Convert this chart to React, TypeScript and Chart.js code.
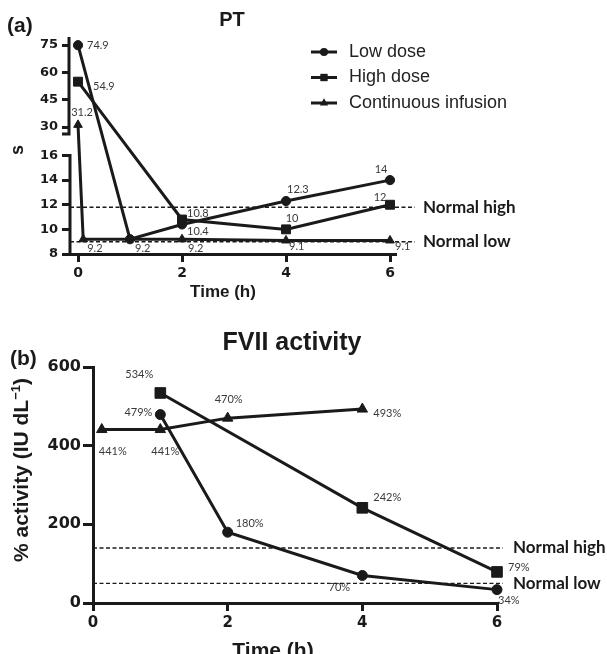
import React, { useEffect, useRef } from 'react';
import { Chart, registerables, LinearScale } from 'chart.js';

Chart.register(...registerables);

// ---------------- DATA ----------------
const SERIES = ['Low dose', 'High dose', 'Continuous infusion'];
const NORMAL_LABELS = ['Normal high', 'Normal low'];

// (a) PT, seconds
const PT_LOW_TIME = [0, 1, 2, 4, 6];
const PT_LOW = [74.9, 9.2, 10.4, 12.3, 14];
const PT_HIGH_TIME = [0, 2, 4, 6];
const PT_HIGH = [54.9, 10.8, 10, 12];
const PT_CONT_TIME = [0, 0.1, 2, 4, 6];
const PT_CONT = [31.2, 9.2, 9.2, 9.1, 9.1];
const PT_NORMAL = [11.8, 9.0];
const PT_Y_TICKS = [8, 10, 12, 14, 16, 30, 45, 60, 75];
const PT_Y_LOWER = [8, 16];
const PT_Y_UPPER = [25.6, 79.4];
const PT_X_TICKS = [0, 2, 4, 6];

// (b) FVII activity, %
const FVII_LOW_TIME = [1, 2, 4, 6];
const FVII_LOW = [479, 180, 70, 34];
const FVII_HIGH_TIME = [1, 4, 6];
const FVII_HIGH = [534, 242, 79];
const FVII_CONT_TIME = [0.13, 1, 2, 4];
const FVII_CONT = [441, 441, 470, 493];
const FVII_NORMAL = [140, 50];
const FVII_Y_TICKS = [0, 200, 400, 600];
const FVII_X_TICKS = [0, 2, 4, 6];

// ---------------- STYLE ----------------
const INK = '#1a1a1a';
const LABEL_INK = '#3a3a3a';
const ARIAL = '"Liberation Sans", Arial, sans-serif';
const WIDE = '"DejaVu Sans", sans-serif';
const LATO = 'Lato, "Open Sans", sans-serif';
const BREAK_FRACTIONS = [0.454, 0.548];

type Off = [CanvasTextAlign, number, number];
const PT_LABEL_OFFSETS: Off[][] = [
  [['left', 9, 0], ['left', 5, 9], ['left', 5, 7], ['left', 1, -12], ['center', -9, -11]],
  [['left', 15, 5], ['left', 5, -6], ['center', 6, -11], ['center', -10, -7]],
  [['center', 4, -12], ['left', 4, 9], ['left', 6, 9], ['left', 3, 6], ['left', 5, 6]],
];
const FVII_LABEL_OFFSETS: Off[][] = [
  [['right', -8, -2], ['left', 8, -9], ['center', -23, 12], ['left', 1, 11]],
  [['center', -21, -19], ['left', 11, -10], ['left', 11, -4]],
  [['center', 11, 22], ['center', 5, 22], ['center', 1, -19], ['left', 11, 4]],
];

// ---------------- broken axis scale ----------------
class BrokenLinearScale extends LinearScale {
  static id = 'brokenLinear';
  static defaults = LinearScale.defaults;
  buildTicks() {
    return PT_Y_TICKS.map((value) => ({ value }));
  }
  getPixelForValue(v: number) {
    const [a0, a1] = PT_Y_LOWER;
    const [b0, b1] = PT_Y_UPPER;
    const [f0, f1] = BREAK_FRACTIONS;
    const f = v <= (a1 + b0) / 2 ? ((v - a0) / (a1 - a0)) * f0 : f1 + ((v - b0) / (b1 - b0)) * (1 - f1);
    return this.bottom - f * (this.bottom - this.top);
  }
  getValueForPixel(p: number) {
    const [a0, a1] = PT_Y_LOWER;
    const [b0, b1] = PT_Y_UPPER;
    const [f0, f1] = BREAK_FRACTIONS;
    const f = (this.bottom - p) / (this.bottom - this.top);
    if (f <= (f0 + f1) / 2) return a0 + (f / f0) * (a1 - a0);
    return b0 + ((f - f1) / (1 - f1)) * (b1 - b0);
  }
}
Chart.register(BrokenLinearScale as any);

// ---------------- helpers ----------------
function series(label: string, times: number[], values: number[], style: string, radius: number) {
  return {
    label,
    data: times.map((t, i) => ({ x: t, y: values[i] })),
    borderColor: INK,
    backgroundColor: INK,
    borderWidth: 3,
    pointStyle: style,
    pointRadius: radius,
    pointBackgroundColor: INK,
    pointBorderColor: INK,
    pointBorderWidth: 1,
    tension: 0,
    fill: false,
    clip: false,
  };
}

function markerPath(ctx: CanvasRenderingContext2D, style: string, x: number, y: number, r: number) {
  ctx.beginPath();
  if (style === 'circle') ctx.arc(x, y, r, 0, Math.PI * 2);
  else if (style === 'rect') {
    const s = r * Math.SQRT1_2;
    ctx.rect(x - s, y - s, 2 * s, 2 * s);
  } else {
    ctx.moveTo(x, y - r);
    ctx.lineTo(x + r * 0.866, y + r * 0.5);
    ctx.lineTo(x - r * 0.866, y + r * 0.5);
    ctx.closePath();
  }
}

function txt(
  ctx: CanvasRenderingContext2D,
  s: string,
  x: number,
  y: number,
  font: string,
  align: CanvasTextAlign = 'center',
  rotate = 0,
  color = INK
) {
  ctx.save();
  ctx.translate(x, y);
  if (rotate) ctx.rotate(rotate);
  ctx.font = font;
  ctx.fillStyle = color;
  ctx.textAlign = align;
  ctx.textBaseline = 'middle';
  ctx.fillText(s, 0, 0);
  ctx.restore();
}

function drawValueLabels(chart: any, offsets: Off[][], fmt: (v: number) => string) {
  const { ctx } = chart;
  chart.data.datasets.forEach((ds: any, i: number) => {
    const meta = chart.getDatasetMeta(i);
    meta.data.forEach((el: any, j: number) => {
      const [align, dx, dy] = offsets[i][j];
      txt(ctx, fmt(ds.data[j].y), el.x + dx, el.y + dy, `11px ${LATO}`, align, 0, LABEL_INK);
    });
  });
}

function drawNormals(chart: any, values: number[], extend: number, labelX: number) {
  const { ctx, chartArea, scales } = chart;
  ctx.save();
  ctx.strokeStyle = INK;
  ctx.lineWidth = 1.4;
  ctx.setLineDash([4, 2.5]);
  values.forEach((v) => {
    const py = scales.y.getPixelForValue(v);
    ctx.beginPath();
    ctx.moveTo(chartArea.left, py);
    ctx.lineTo(chartArea.right + extend, py);
    ctx.stroke();
  });
  ctx.restore();
  values.forEach((v, i) => {
    const py = scales.y.getPixelForValue(v);
    txt(ctx, NORMAL_LABELS[i], labelX, py, `bold 17px ${LATO}`, 'left');
  });
}

function axisTickOpts(len: number, font: any, padding: number) {
  return {
    grid: {
      display: true,
      drawOnChartArea: false,
      drawTicks: true,
      tickLength: len,
      tickWidth: 3,
      tickColor: INK,
      lineWidth: 3,
      color: INK,
    },
    ticks: { color: INK, font, padding, autoSkip: false, maxRotation: 0, callback: (v: any) => String(v) },
  };
}

// ---------------- panel (a) ----------------
const overlayA = {
  id: 'overlayA',
  beforeDatasetsDraw(chart: any) {
    const { ctx, chartArea, scales } = chart;
    const y = scales.y;
    const ax = chartArea.left;
    ctx.save();
    ctx.strokeStyle = INK;
    ctx.lineWidth = 3;
    ctx.beginPath();
    ctx.moveTo(ax - 1, y.getPixelForValue(PT_Y_UPPER[1]));
    ctx.lineTo(ax - 1, y.getPixelForValue(PT_Y_UPPER[0]));
    ctx.moveTo(ax - 8, y.getPixelForValue(PT_Y_UPPER[0]) - 1);
    ctx.lineTo(ax + 0.5, y.getPixelForValue(PT_Y_UPPER[0]) - 1);
    ctx.moveTo(ax, y.getPixelForValue(PT_Y_LOWER[1]) - 1.5);
    ctx.lineTo(ax, chartArea.bottom);
    ctx.stroke();
    ctx.restore();
    drawNormals(chart, PT_NORMAL, 20, 423);
  },
  afterDraw(chart: any) {
    const { ctx } = chart;
    drawValueLabels(chart, PT_LABEL_OFFSETS, (v) => String(v));
    txt(ctx, '(a)', 7, 26, `bold 21px ${ARIAL}`, 'left');
    txt(ctx, 'PT', 232, 20, `bold 20px ${ARIAL}`);
    txt(ctx, 's', 18, 150, `bold 18px ${ARIAL}`, 'center', -Math.PI / 2);
    txt(ctx, 'Time (h)', 223, 292, `bold 17px ${ARIAL}`);
    // legend
    const styles = ['circle', 'rect', 'triangle'];
    const radii = [4, 5.2, 4.8];
    SERIES.forEach((name, i) => {
      const ly = 52 + i * 25.5;
      ctx.save();
      ctx.strokeStyle = INK;
      ctx.fillStyle = INK;
      ctx.lineWidth = 3;
      ctx.beginPath();
      ctx.moveTo(311, ly);
      ctx.lineTo(337, ly);
      ctx.stroke();
      markerPath(ctx, styles[i], 324, ly, radii[i]);
      ctx.fill();
      ctx.restore();
      txt(ctx, name, 349, ly, `18px ${ARIAL}`, 'left', 0, '#222');
    });
  },
};

function configA(): any {
  return {
    type: 'line',
    data: {
      datasets: [
        series(SERIES[0], PT_LOW_TIME, PT_LOW, 'circle', 4.6),
        series(SERIES[1], PT_HIGH_TIME, PT_HIGH, 'rect', 6.3),
        series(SERIES[2], PT_CONT_TIME, PT_CONT, 'triangle', 5),
      ],
    },
    options: {
      responsive: false,
      animation: false,
      devicePixelRatio: 1,
      events: [],
      layout: { padding: { left: 0, top: 37, right: 212, bottom: 16 } },
      plugins: { legend: { display: false }, tooltip: { enabled: false }, title: { display: false } },
      scales: {
        x: {
          type: 'linear',
          min: -0.154,
          max: 6.096,
          afterBuildTicks: (s: any) => {
            s.ticks = PT_X_TICKS.map((value) => ({ value }));
          },
          afterFit: (s: any) => {
            s.height = 40;
          },
          border: { display: true, color: INK, width: 3 },
          ...axisTickOpts(8, { family: WIDE, weight: 'bold', size: 14 }, 3),
        },
        y: {
          type: 'brokenLinear',
          min: PT_Y_LOWER[0],
          max: PT_Y_UPPER[1],
          afterFit: (s: any) => {
            s.width = 70;
          },
          border: { display: false },
          ...axisTickOpts(8, { family: WIDE, weight: 'bold', size: 13 }, 4),
        },
      },
    },
    plugins: [overlayA],
  };
}

// ---------------- panel (b) ----------------
const overlayB = {
  id: 'overlayB',
  beforeDatasetsDraw(chart: any) {
    drawNormals(chart, FVII_NORMAL, 6, 513);
  },
  afterDraw(chart: any) {
    const { ctx } = chart;
    drawValueLabels(chart, FVII_LABEL_OFFSETS, (v) => `${v}%`);
    txt(ctx, '(b)', 10, 49, `bold 21px ${ARIAL}`, 'left');
    txt(ctx, 'FVII activity', 292, 33, `bold 25px ${ARIAL}`);
    txt(ctx, 'Time (h)', 273, 341, `bold 21px ${ARIAL}`);
    // rotated y title with superscript
    ctx.save();
    ctx.translate(22, 160);
    ctx.rotate(-Math.PI / 2);
    ctx.fillStyle = INK;
    ctx.textBaseline = 'middle';
    ctx.textAlign = 'left';
    const main = '% activity (IU dL';
    const sup = '\u22121';
    const tail = ')';
    const mainFont = `bold 21px ${ARIAL}`;
    const supFont = `bold 13px ${ARIAL}`;
    ctx.font = mainFont;
    const w1 = ctx.measureText(main).width;
    const w3 = ctx.measureText(tail).width;
    ctx.font = supFont;
    const w2 = ctx.measureText(sup).width;
    let x0 = -(w1 + w2 + w3) / 2;
    ctx.font = mainFont;
    ctx.fillText(main, x0, 0);
    x0 += w1;
    ctx.font = supFont;
    ctx.fillText(sup, x0, -6);
    x0 += w2;
    ctx.font = mainFont;
    ctx.fillText(tail, x0, 0);
    ctx.restore();
  },
};

function configB(): any {
  return {
    type: 'line',
    data: {
      datasets: [
        series(SERIES[0], FVII_LOW_TIME, FVII_LOW, 'circle', 5),
        series(SERIES[1], FVII_HIGH_TIME, FVII_HIGH, 'rect', 7.5),
        series(SERIES[2], FVII_CONT_TIME, FVII_CONT, 'triangle', 6),
      ],
    },
    options: {
      responsive: false,
      animation: false,
      devicePixelRatio: 1,
      events: [],
      layout: { padding: { left: 0, top: 57, right: 110, bottom: 11 } },
      plugins: { legend: { display: false }, tooltip: { enabled: false }, title: { display: false } },
      scales: {
        x: {
          type: 'linear',
          min: 0,
          max: 6,
          afterBuildTicks: (s: any) => {
            s.ticks = FVII_X_TICKS.map((value) => ({ value }));
          },
          afterFit: (s: any) => {
            s.height = 40;
          },
          border: { display: true, color: INK, width: 3 },
          ...axisTickOpts(8, { family: WIDE, weight: 'bold', size: 15 }, 3),
        },
        y: {
          type: 'linear',
          min: 0,
          max: 600,
          afterBuildTicks: (s: any) => {
            s.ticks = FVII_Y_TICKS.map((value) => ({ value }));
          },
          afterFit: (s: any) => {
            s.width = 93;
          },
          border: { display: true, color: INK, width: 3 },
          ...axisTickOpts(10, { family: WIDE, weight: 'bold', size: 16 }, 2),
        },
      },
    },
    plugins: [overlayB],
  };
}

// ---------------- components ----------------
function Panel({ make, top, height }: { make: () => any; top: number; height: number }) {
  const ref = useRef<HTMLCanvasElement>(null);
  useEffect(() => {
    const chart = new Chart(ref.current as HTMLCanvasElement, make());
    return () => chart.destroy();
  }, [make]);
  return (
    <canvas
      ref={ref}
      width={607}
      height={height}
      style={{ position: 'absolute', left: 0, top, width: 607, height, display: 'block' }}
    />
  );
}

export default function App() {
  return (
    <div style={{ position: 'absolute', left: 0, top: 0, width: 607, height: 654, background: '#fff', overflow: 'hidden' }}>
      <Panel make={configA} top={0} height={310} />
      <Panel make={configB} top={310} height={344} />
    </div>
  );
}
